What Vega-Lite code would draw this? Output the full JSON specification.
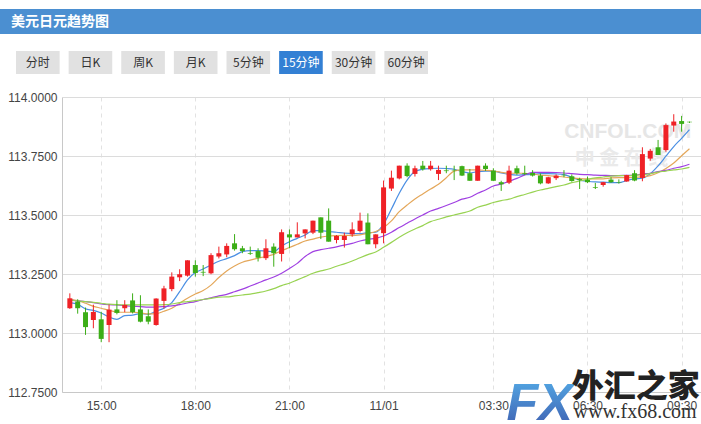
{
  "$schema": "https://vega.github.io/schema/vega-lite/v6.json",
  "padding": {"left": 0, "top": 9, "right": 0, "bottom": 0},
  "background": "#ffffff",
  "spacing": 17,
  "config": {"view": {"stroke": null}, "font": "Noto Sans CJK SC"},
  "datasets": {
    "header": [{"title": "美元日元趋势图"}],
    "buttons": [
      {"label": "分时", "sel": false},
      {"label": "日K", "sel": false},
      {"label": "周K", "sel": false},
      {"label": "月K", "sel": false},
      {"label": "5分钟", "sel": false},
      {"label": "15分钟", "sel": true},
      {"label": "30分钟", "sel": false},
      {"label": "60分钟", "sel": false}
    ],
    "candles": [
      {"t": "2017/10/31 14:00", "o": 113.105, "h": 113.168, "l": 113.102, "c": 113.147, "ma5": 113.129, "ma10": 113.143, "ma20": 113.139, "ma30": 113.140},
      {"t": "2017/10/31 14:15", "o": 113.133, "h": 113.143, "l": 113.082, "c": 113.105, "ma5": 113.122, "ma10": 113.137, "ma20": 113.136, "ma30": 113.136},
      {"t": "2017/10/31 14:30", "o": 113.088, "h": 113.108, "l": 112.992, "c": 113.025, "ma5": 113.102, "ma10": 113.126, "ma20": 113.133, "ma30": 113.133},
      {"t": "2017/10/31 14:45", "o": 113.055, "h": 113.120, "l": 113.020, "c": 113.089, "ma5": 113.096, "ma10": 113.113, "ma20": 113.129, "ma30": 113.130},
      {"t": "2017/10/31 15:00", "o": 113.058, "h": 113.090, "l": 112.961, "c": 112.975, "ma5": 113.085, "ma10": 113.105, "ma20": 113.123, "ma30": 113.126},
      {"t": "2017/10/31 15:15", "o": 113.034, "h": 113.120, "l": 112.961, "c": 113.099, "ma5": 113.068, "ma10": 113.096, "ma20": 113.120, "ma30": 113.122},
      {"t": "2017/10/31 15:30", "o": 113.100, "h": 113.139, "l": 113.079, "c": 113.085, "ma5": 113.058, "ma10": 113.089, "ma20": 113.119, "ma30": 113.120},
      {"t": "2017/10/31 15:45", "o": 113.105, "h": 113.139, "l": 113.088, "c": 113.119, "ma5": 113.074, "ma10": 113.088, "ma20": 113.116, "ma30": 113.119},
      {"t": "2017/10/31 16:00", "o": 113.138, "h": 113.168, "l": 113.083, "c": 113.088, "ma5": 113.076, "ma10": 113.088, "ma20": 113.113, "ma30": 113.119},
      {"t": "2017/10/31 16:15", "o": 113.100, "h": 113.160, "l": 113.045, "c": 113.048, "ma5": 113.082, "ma10": 113.085, "ma20": 113.112, "ma30": 113.119},
      {"t": "2017/10/31 16:30", "o": 113.071, "h": 113.100, "l": 113.037, "c": 113.048, "ma5": 113.079, "ma10": 113.081, "ma20": 113.110, "ma30": 113.119},
      {"t": "2017/10/31 16:45", "o": 113.034, "h": 113.147, "l": 113.031, "c": 113.146, "ma5": 113.093, "ma10": 113.082, "ma20": 113.110, "ma30": 113.119},
      {"t": "2017/10/31 17:00", "o": 113.136, "h": 113.200, "l": 113.104, "c": 113.189, "ma5": 113.105, "ma10": 113.092, "ma20": 113.112, "ma30": 113.120},
      {"t": "2017/10/31 17:15", "o": 113.186, "h": 113.257, "l": 113.177, "c": 113.239, "ma5": 113.129, "ma10": 113.105, "ma20": 113.115, "ma30": 113.123},
      {"t": "2017/10/31 17:30", "o": 113.236, "h": 113.270, "l": 113.220, "c": 113.249, "ma5": 113.175, "ma10": 113.126, "ma20": 113.120, "ma30": 113.129},
      {"t": "2017/10/31 17:45", "o": 113.243, "h": 113.308, "l": 113.239, "c": 113.308, "ma5": 113.225, "ma10": 113.147, "ma20": 113.127, "ma30": 113.133},
      {"t": "2017/10/31 18:00", "o": 113.288, "h": 113.308, "l": 113.239, "c": 113.254, "ma5": 113.256, "ma10": 113.165, "ma20": 113.133, "ma30": 113.137},
      {"t": "2017/10/31 18:15", "o": 113.259, "h": 113.288, "l": 113.241, "c": 113.256, "ma5": 113.271, "ma10": 113.180, "ma20": 113.142, "ma30": 113.142},
      {"t": "2017/10/31 18:30", "o": 113.253, "h": 113.338, "l": 113.249, "c": 113.330, "ma5": 113.288, "ma10": 113.203, "ma20": 113.149, "ma30": 113.147},
      {"t": "2017/10/31 18:45", "o": 113.324, "h": 113.366, "l": 113.316, "c": 113.338, "ma5": 113.304, "ma10": 113.235, "ma20": 113.157, "ma30": 113.152},
      {"t": "2017/10/31 19:00", "o": 113.333, "h": 113.380, "l": 113.321, "c": 113.369, "ma5": 113.315, "ma10": 113.263, "ma20": 113.164, "ma30": 113.153},
      {"t": "2017/10/31 19:15", "o": 113.380, "h": 113.419, "l": 113.349, "c": 113.355, "ma5": 113.328, "ma10": 113.284, "ma20": 113.175, "ma30": 113.157},
      {"t": "2017/10/31 19:30", "o": 113.359, "h": 113.369, "l": 113.338, "c": 113.347, "ma5": 113.345, "ma10": 113.300, "ma20": 113.186, "ma30": 113.161},
      {"t": "2017/10/31 19:45", "o": 113.338, "h": 113.366, "l": 113.331, "c": 113.335, "ma5": 113.349, "ma10": 113.309, "ma20": 113.199, "ma30": 113.165},
      {"t": "2017/10/31 20:00", "o": 113.347, "h": 113.359, "l": 113.303, "c": 113.319, "ma5": 113.349, "ma10": 113.317, "ma20": 113.212, "ma30": 113.171},
      {"t": "2017/10/31 20:15", "o": 113.317, "h": 113.397, "l": 113.309, "c": 113.359, "ma5": 113.347, "ma10": 113.324, "ma20": 113.225, "ma30": 113.178},
      {"t": "2017/10/31 20:30", "o": 113.366, "h": 113.380, "l": 113.281, "c": 113.338, "ma5": 113.345, "ma10": 113.333, "ma20": 113.237, "ma30": 113.188},
      {"t": "2017/10/31 20:45", "o": 113.335, "h": 113.439, "l": 113.303, "c": 113.427, "ma5": 113.369, "ma10": 113.349, "ma20": 113.253, "ma30": 113.201},
      {"t": "2017/10/31 21:00", "o": 113.418, "h": 113.439, "l": 113.359, "c": 113.405, "ma5": 113.387, "ma10": 113.362, "ma20": 113.273, "ma30": 113.211},
      {"t": "2017/10/31 21:15", "o": 113.405, "h": 113.469, "l": 113.405, "c": 113.418, "ma5": 113.401, "ma10": 113.376, "ma20": 113.295, "ma30": 113.225},
      {"t": "2017/10/31 21:30", "o": 113.422, "h": 113.439, "l": 113.401, "c": 113.439, "ma5": 113.415, "ma10": 113.390, "ma20": 113.324, "ma30": 113.239},
      {"t": "2017/10/31 21:45", "o": 113.425, "h": 113.476, "l": 113.419, "c": 113.476, "ma5": 113.434, "ma10": 113.398, "ma20": 113.345, "ma30": 113.253},
      {"t": "2017/10/31 22:00", "o": 113.490, "h": 113.490, "l": 113.398, "c": 113.425, "ma5": 113.434, "ma10": 113.406, "ma20": 113.353, "ma30": 113.263},
      {"t": "2017/10/31 22:15", "o": 113.476, "h": 113.528, "l": 113.387, "c": 113.387, "ma5": 113.430, "ma10": 113.411, "ma20": 113.359, "ma30": 113.271},
      {"t": "2017/10/31 22:30", "o": 113.394, "h": 113.415, "l": 113.380, "c": 113.411, "ma5": 113.427, "ma10": 113.413, "ma20": 113.365, "ma30": 113.283},
      {"t": "2017/10/31 22:45", "o": 113.394, "h": 113.425, "l": 113.362, "c": 113.411, "ma5": 113.423, "ma10": 113.414, "ma20": 113.372, "ma30": 113.293},
      {"t": "2017/10/31 23:00", "o": 113.418, "h": 113.469, "l": 113.408, "c": 113.439, "ma5": 113.421, "ma10": 113.413, "ma20": 113.380, "ma30": 113.305},
      {"t": "2017/10/31 23:15", "o": 113.432, "h": 113.510, "l": 113.426, "c": 113.476, "ma5": 113.421, "ma10": 113.416, "ma20": 113.390, "ma30": 113.319},
      {"t": "2017/10/31 23:30", "o": 113.468, "h": 113.507, "l": 113.376, "c": 113.376, "ma5": 113.425, "ma10": 113.422, "ma20": 113.397, "ma30": 113.332},
      {"t": "2017/10/31 23:45", "o": 113.376, "h": 113.418, "l": 113.359, "c": 113.418, "ma5": 113.427, "ma10": 113.430, "ma20": 113.401, "ma30": 113.343},
      {"t": "2017/11/01 00:00", "o": 113.423, "h": 113.646, "l": 113.380, "c": 113.617, "ma5": 113.461, "ma10": 113.447, "ma20": 113.411, "ma30": 113.363},
      {"t": "2017/11/01 00:15", "o": 113.612, "h": 113.688, "l": 113.602, "c": 113.658, "ma5": 113.525, "ma10": 113.475, "ma20": 113.427, "ma30": 113.384},
      {"t": "2017/11/01 00:30", "o": 113.655, "h": 113.709, "l": 113.651, "c": 113.709, "ma5": 113.592, "ma10": 113.514, "ma20": 113.447, "ma30": 113.406},
      {"t": "2017/11/01 00:45", "o": 113.709, "h": 113.719, "l": 113.660, "c": 113.665, "ma5": 113.648, "ma10": 113.542, "ma20": 113.465, "ma30": 113.425},
      {"t": "2017/11/01 01:00", "o": 113.674, "h": 113.709, "l": 113.663, "c": 113.698, "ma5": 113.684, "ma10": 113.568, "ma20": 113.483, "ma30": 113.441},
      {"t": "2017/11/01 01:15", "o": 113.709, "h": 113.729, "l": 113.688, "c": 113.694, "ma5": 113.694, "ma10": 113.589, "ma20": 113.500, "ma30": 113.455},
      {"t": "2017/11/01 01:30", "o": 113.694, "h": 113.729, "l": 113.688, "c": 113.709, "ma5": 113.697, "ma10": 113.610, "ma20": 113.517, "ma30": 113.472},
      {"t": "2017/11/01 01:45", "o": 113.674, "h": 113.709, "l": 113.648, "c": 113.691, "ma5": 113.698, "ma10": 113.630, "ma20": 113.528, "ma30": 113.482},
      {"t": "2017/11/01 02:00", "o": 113.689, "h": 113.709, "l": 113.677, "c": 113.686, "ma5": 113.697, "ma10": 113.658, "ma20": 113.540, "ma30": 113.492},
      {"t": "2017/11/01 02:15", "o": 113.691, "h": 113.709, "l": 113.648, "c": 113.689, "ma5": 113.694, "ma10": 113.686, "ma20": 113.553, "ma30": 113.500},
      {"t": "2017/11/01 02:30", "o": 113.707, "h": 113.709, "l": 113.665, "c": 113.667, "ma5": 113.684, "ma10": 113.691, "ma20": 113.567, "ma30": 113.508},
      {"t": "2017/11/01 02:45", "o": 113.677, "h": 113.695, "l": 113.645, "c": 113.645, "ma5": 113.678, "ma10": 113.691, "ma20": 113.575, "ma30": 113.517},
      {"t": "2017/11/01 03:00", "o": 113.645, "h": 113.709, "l": 113.645, "c": 113.709, "ma5": 113.684, "ma10": 113.691, "ma20": 113.592, "ma30": 113.533},
      {"t": "2017/11/01 03:15", "o": 113.709, "h": 113.719, "l": 113.687, "c": 113.695, "ma5": 113.686, "ma10": 113.689, "ma20": 113.606, "ma30": 113.542},
      {"t": "2017/11/01 03:30", "o": 113.688, "h": 113.698, "l": 113.645, "c": 113.645, "ma5": 113.686, "ma10": 113.686, "ma20": 113.623, "ma30": 113.553},
      {"t": "2017/11/01 03:45", "o": 113.639, "h": 113.645, "l": 113.602, "c": 113.630, "ma5": 113.678, "ma10": 113.681, "ma20": 113.631, "ma30": 113.561},
      {"t": "2017/11/01 04:00", "o": 113.637, "h": 113.709, "l": 113.631, "c": 113.688, "ma5": 113.672, "ma10": 113.678, "ma20": 113.643, "ma30": 113.567},
      {"t": "2017/11/01 04:15", "o": 113.698, "h": 113.709, "l": 113.670, "c": 113.677, "ma5": 113.669, "ma10": 113.677, "ma20": 113.655, "ma30": 113.578},
      {"t": "2017/11/01 04:30", "o": 113.677, "h": 113.709, "l": 113.669, "c": 113.673, "ma5": 113.671, "ma10": 113.677, "ma20": 113.670, "ma30": 113.587},
      {"t": "2017/11/01 04:45", "o": 113.678, "h": 113.690, "l": 113.663, "c": 113.667, "ma5": 113.672, "ma10": 113.674, "ma20": 113.681, "ma30": 113.597},
      {"t": "2017/11/01 05:00", "o": 113.667, "h": 113.676, "l": 113.630, "c": 113.634, "ma5": 113.675, "ma10": 113.669, "ma20": 113.681, "ma30": 113.606},
      {"t": "2017/11/01 05:15", "o": 113.634, "h": 113.662, "l": 113.632, "c": 113.660, "ma5": 113.675, "ma10": 113.667, "ma20": 113.681, "ma30": 113.613},
      {"t": "2017/11/01 05:30", "o": 113.656, "h": 113.672, "l": 113.648, "c": 113.667, "ma5": 113.674, "ma10": 113.664, "ma20": 113.680, "ma30": 113.620},
      {"t": "2017/11/01 05:45", "o": 113.670, "h": 113.690, "l": 113.660, "c": 113.668, "ma5": 113.671, "ma10": 113.661, "ma20": 113.678, "ma30": 113.627},
      {"t": "2017/11/01 06:00", "o": 113.664, "h": 113.672, "l": 113.641, "c": 113.644, "ma5": 113.660, "ma10": 113.657, "ma20": 113.675, "ma30": 113.637},
      {"t": "2017/11/01 06:15", "o": 113.652, "h": 113.658, "l": 113.610, "c": 113.648, "ma5": 113.648, "ma10": 113.654, "ma20": 113.672, "ma30": 113.644},
      {"t": "2017/11/01 06:30", "o": 113.649, "h": 113.663, "l": 113.635, "c": 113.639, "ma5": 113.643, "ma10": 113.653, "ma20": 113.671, "ma30": 113.651},
      {"t": "2017/11/01 06:45", "o": 113.618, "h": 113.636, "l": 113.610, "c": 113.615, "ma5": 113.640, "ma10": 113.653, "ma20": 113.669, "ma30": 113.657},
      {"t": "2017/11/01 07:00", "o": 113.627, "h": 113.640, "l": 113.620, "c": 113.639, "ma5": 113.639, "ma10": 113.653, "ma20": 113.668, "ma30": 113.661},
      {"t": "2017/11/01 07:15", "o": 113.650, "h": 113.660, "l": 113.636, "c": 113.639, "ma5": 113.637, "ma10": 113.657, "ma20": 113.667, "ma30": 113.665},
      {"t": "2017/11/01 07:30", "o": 113.638, "h": 113.651, "l": 113.633, "c": 113.636, "ma5": 113.637, "ma10": 113.658, "ma20": 113.667, "ma30": 113.667},
      {"t": "2017/11/01 07:45", "o": 113.642, "h": 113.670, "l": 113.641, "c": 113.669, "ma5": 113.646, "ma10": 113.658, "ma20": 113.668, "ma30": 113.667},
      {"t": "2017/11/01 08:00", "o": 113.677, "h": 113.690, "l": 113.643, "c": 113.646, "ma5": 113.653, "ma10": 113.660, "ma20": 113.669, "ma30": 113.668},
      {"t": "2017/11/01 08:15", "o": 113.657, "h": 113.787, "l": 113.643, "c": 113.758, "ma5": 113.656, "ma10": 113.663, "ma20": 113.674, "ma30": 113.671},
      {"t": "2017/11/01 08:30", "o": 113.739, "h": 113.780, "l": 113.730, "c": 113.772, "ma5": 113.675, "ma10": 113.667, "ma20": 113.677, "ma30": 113.675},
      {"t": "2017/11/01 08:45", "o": 113.787, "h": 113.818, "l": 113.754, "c": 113.754, "ma5": 113.708, "ma10": 113.679, "ma20": 113.684, "ma30": 113.682},
      {"t": "2017/11/01 09:00", "o": 113.775, "h": 113.888, "l": 113.768, "c": 113.881, "ma5": 113.749, "ma10": 113.697, "ma20": 113.689, "ma30": 113.686},
      {"t": "2017/11/01 09:15", "o": 113.879, "h": 113.927, "l": 113.853, "c": 113.896, "ma5": 113.790, "ma10": 113.720, "ma20": 113.698, "ma30": 113.691},
      {"t": "2017/11/01 09:30", "o": 113.898, "h": 113.920, "l": 113.853, "c": 113.886, "ma5": 113.825, "ma10": 113.751, "ma20": 113.705, "ma30": 113.695},
      {"t": "2017/11/01 09:45", "o": 113.895, "h": 113.896, "l": 113.890, "c": 113.893, "ma5": 113.862, "ma10": 113.781, "ma20": 113.715, "ma30": 113.702}
    ]
  },
  "vconcat": [
    {
      "width": 701,
      "height": 25,
      "view": {"fill": "#4b8fd1", "stroke": null},
      "data": {"name": "header"},
      "mark": {"type": "text", "align": "left", "baseline": "middle", "dx": 11, "color": "#ffffff", "fontSize": 14, "fontWeight": "bold", "font": "Noto Sans CJK SC"},
      "encoding": {
        "x": {"field": "title", "type": "nominal", "axis": null, "scale": {"type": "point", "padding": 0, "align": 0}},
        "text": {"field": "title"}
      }
    },
    {
      "width": 444,
      "height": 23,
      "data": {"name": "buttons"},
      "encoding": {
        "x": {"field": "label", "type": "nominal", "sort": null, "axis": null, "scale": {"paddingInner": 0.171, "paddingOuter": 0.304}}
      },
      "layer": [
        {
          "mark": {"type": "rect"},
          "encoding": {"color": {"condition": {"test": "datum.sel", "value": "#3380d4"}, "value": "#e1e1e1"}}
        },
        {
          "mark": {"type": "text", "fontSize": 12, "font": "Noto Sans CJK SC"},
          "encoding": {
            "text": {"field": "label"},
            "color": {"condition": {"test": "datum.sel", "value": "#ffffff"}, "value": "#333333"}
          }
        }
      ]
    },
    {
      "width": 702,
      "height": 295,
      "data": {"name": "candles"},
      "layer": [
        {
          "transform": [{"aggregate": [{"op": "count", "as": "n"}]}],
          "mark": {"type": "text", "fontSize": 21, "fontWeight": "bold", "font": "Liberation Sans", "color": "#e6e6e6", "align": "center", "baseline": "middle"},
          "encoding": {
            "x": {"datum": {"year": 2017, "month": 11, "date": 1, "hours": 7, "minutes": 47}, "type": "temporal"},
            "y": {"datum": 113.852, "type": "quantitative"},
            "text": {"value": "CNFOL.COM"}
          }
        },
        {
          "transform": [{"aggregate": [{"op": "count", "as": "n"}]}],
          "mark": {"type": "text", "fontSize": 20, "fontWeight": "bold", "font": "Noto Sans CJK SC", "color": "#eaeaea", "align": "center", "baseline": "middle"},
          "encoding": {
            "x": {"datum": {"year": 2017, "month": 11, "date": 1, "hours": 7, "minutes": 35}, "type": "temporal"},
            "y": {"datum": 113.737, "type": "quantitative"},
            "text": {"value": "中  金  在  线"}
          }
        },
        {
          "transform": [{"fold": ["ma5", "ma10", "ma20", "ma30"], "as": ["ma", "v"]}],
          "mark": {"type": "line", "strokeWidth": 1.2, "interpolate": "monotone"},
          "encoding": {
            "x": {"field": "t", "type": "temporal", "title": null},
            "y": {"field": "v", "type": "quantitative", "title": null},
            "color": {"field": "ma", "type": "nominal", "legend": null, "scale": {"domain": ["ma30", "ma20", "ma10", "ma5"], "range": ["#98d352", "#a040e2", "#e4a75a", "#4b8fe3"]}}
          }
        },
        {
          "mark": {"type": "rule", "strokeWidth": 1},
          "encoding": {
            "x": {
              "field": "t",
              "type": "temporal",
              "title": null,
              "scale": {"domain": [{"year": 2017, "month": 10, "date": 31, "hours": 13, "minutes": 45}, {"year": 2017, "month": 11, "date": 1, "hours": 10, "minutes": 9}], "range": [62, 702], "padding": 0},
              "axis": {
                "values": [
                  {"year": 2017, "month": 10, "date": 31, "hours": 15},
                  {"year": 2017, "month": 10, "date": 31, "hours": 18},
                  {"year": 2017, "month": 10, "date": 31, "hours": 21},
                  {"year": 2017, "month": 11, "date": 1, "hours": 0},
                  {"year": 2017, "month": 11, "date": 1, "hours": 3, "minutes": 30},
                  {"year": 2017, "month": 11, "date": 1, "hours": 6, "minutes": 30},
                  {"year": 2017, "month": 11, "date": 1, "hours": 9, "minutes": 30}
                ],
                "labelExpr": "timeFormat(datum.value, '%H:%M') == '00:00' ? timeFormat(datum.value, '%m/%d') : timeFormat(datum.value, '%H:%M')",
                "domain": true,
                "domainColor": "#c8c8c8",
                "ticks": false,
                "grid": true,
                "gridDash": [4, 4],
                "gridColor": "#e2e2e2",
                "labelColor": "#444444",
                "labelFontSize": 12,
                "labelFont": "Liberation Sans",
                "labelPadding": 8,
                "labelFlush": false
              }
            },
            "y": {
              "field": "l",
              "type": "quantitative",
              "title": null,
              "scale": {"domain": [112.75, 114], "nice": false, "zero": false, "padding": 0},
              "axis": {
                "values": [112.75, 113, 113.25, 113.5, 113.75, 114],
                "format": ".4f",
                "offset": -62,
                "domain": true,
                "domainColor": "#c8c8c8",
                "ticks": false,
                "grid": true,
                "gridColor": "#dcdcdc",
                "labelColor": "#444444",
                "labelFontSize": 12,
                "labelFont": "Liberation Sans",
                "labelPadding": 5
              }
            },
            "y2": {"field": "h"},
            "color": {"condition": {"test": "datum.c >= datum.o", "value": "#ef2126"}, "value": "#3cae17"}
          }
        },
        {
          "mark": {"type": "bar", "size": 5},
          "encoding": {
            "x": {"field": "t", "type": "temporal", "title": null},
            "y": {"field": "o", "type": "quantitative", "title": null},
            "y2": {"field": "c"},
            "color": {"condition": {"test": "datum.c >= datum.o", "value": "#ef2126"}, "value": "#3cae17"}
          }
        },
        {
          "transform": [{"aggregate": [{"op": "count", "as": "n"}]}],
          "mark": {"type": "text", "fontSize": 52, "fontWeight": "bold", "fontStyle": "italic", "font": "Liberation Sans", "align": "left", "baseline": "alphabetic", "fill": {"gradient": "linear", "x1": 0, "y1": 0, "x2": 0, "y2": 1, "stops": [{"offset": 0, "color": "#55b0ea"}, {"offset": 1, "color": "#3e5cae"}]}},
          "encoding": {
            "x": {"datum": {"year": 2017, "month": 11, "date": 1, "hours": 3, "minutes": 55}, "type": "temporal"},
            "y": {"datum": 112.631, "type": "quantitative"},
            "text": {"value": "FX"}
          }
        },
        {
          "transform": [{"aggregate": [{"op": "count", "as": "n"}]}],
          "mark": {"type": "text", "fontSize": 32, "fontWeight": 900, "font": "Noto Sans CJK SC", "color": "#222222", "align": "left", "baseline": "middle"},
          "encoding": {
            "x": {"datum": {"year": 2017, "month": 11, "date": 1, "hours": 6, "minutes": 0}, "type": "temporal"},
            "y": {"datum": 112.773, "type": "quantitative"},
            "text": {"value": "外汇之家"}
          }
        },
        {
          "transform": [{"aggregate": [{"op": "count", "as": "n"}]}],
          "mark": {"type": "text", "fontSize": 20, "font": "Liberation Serif", "color": "#333333", "align": "center", "baseline": "middle"},
          "encoding": {
            "x": {"datum": {"year": 2017, "month": 11, "date": 1, "hours": 8, "minutes": 1}, "type": "temporal"},
            "y": {"datum": 112.665, "type": "quantitative"},
            "text": {"value": "www.fx68.com"}
          }
        }
      ]
    }
  ]
}
